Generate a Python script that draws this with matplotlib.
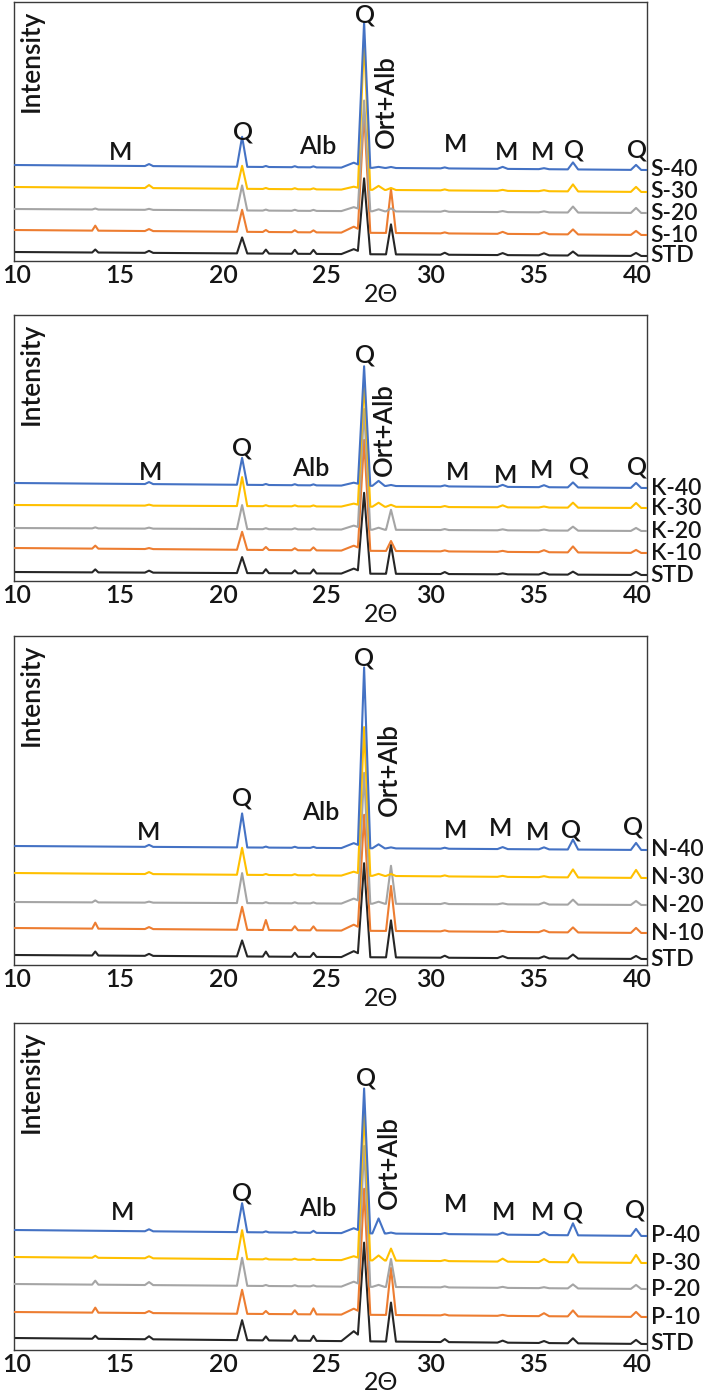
import numpy as np
import matplotlib
matplotlib.use("Agg")
import matplotlib.pyplot as plt

plt.rcParams['font.family'] = ['Lato', 'DejaVu Sans']
plt.rcParams['font.weight'] = 'semibold'

# ---------------- data ----------------
# peak positions (2-theta) and half base widths of the triangular peaks
PEAK_2THETA = [13.8, 16.4, 20.9, 22.05, 23.45, 24.35, 26.3, 26.8, 27.5, 28.1, 30.7, 33.5, 35.5, 36.9, 39.95]
PEAK_HALFWIDTH = [0.15, 0.2, 0.25, 0.15, 0.15, 0.15, 0.6, 0.3, 0.3, 0.24, 0.2, 0.25, 0.25, 0.25, 0.25]

SAMPLES = ['STD', '10', '20', '30', '40']
PANEL_PREFIX = ['S', 'K', 'N', 'P']

# baselines (left end, right end) for STD, -10, -20, -30, -40 (stacked offsets, arbitrary units)
BASE_S = [(9, 5), (31, 26), (52, 48), (74, 69), (96, 91)]
BASE_K = [(9, 6), (33, 28), (53, 50), (76, 73), (98, 93)]
BASE_N = [(10, 6), (37, 32), (63, 60), (92, 87), (119, 115)]
BASE_P = [(12, 6), (38, 33), (66, 61), (93, 87), (120, 114)]

# peak heights above baseline, in the order of PEAK_2THETA
S_STD = [3, 2, 16, 4, 4, 4, 5, 75, 0, 30, 2, 2, 2, 4, 3]
S_10 = [5, 2, 22, 2, 2, 2, 6, 120, 0, 44, 1, 2, 2, 5, 4]
S_20 = [1, 1, 25, 1, 1, 1, 4, 110, 2, 3, 1, 1, 1, 6, 5]
S_30 = [0, 3, 23, 1, 1, 1, 3, 150, 4, 2, 1, 1, 1, 7, 5]
S_40 = [0, 2, 30, 1, 1, 1, 5, 145, 1, 1, 1, 2, 1, 7, 5]

K_STD = [3, 2, 16, 4, 3, 4, 5, 80, 0, 29, 2, 1, 2, 3, 3]
K_10 = [3, 1, 18, 3, 2, 3, 5, 110, 0, 10, 1, 1, 2, 6, 3]
K_20 = [1, 1, 24, 1, 1, 1, 4, 120, 2, 20, 1, 1, 1, 4, 3]
K_30 = [0, 1, 29, 1, 1, 1, 3, 125, 4, 2, 1, 2, 1, 5, 5]
K_40 = [0, 2, 27, 1, 1, 1, 3, 119, 5, 1, 1, 2, 2, 5, 5]

N_STD = [4, 2, 16, 5, 4, 4, 6, 93, 0, 37, 2, 2, 2, 4, 3]
N_10 = [6, 2, 23, 10, 4, 4, 6, 115, 0, 45, 1, 1, 2, 5, 5]
N_20 = [2, 1, 30, 1, 1, 1, 5, 130, 2, 38, 1, 1, 2, 5, 4]
N_30 = [0, 2, 27, 1, 1, 1, 4, 148, 2, 2, 1, 1, 1, 8, 8]
N_40 = [0, 2, 34, 1, 1, 1, 5, 180, 4, 1, 1, 2, 2, 10, 7]

P_STD = [3, 3, 20, 4, 5, 5, 10, 97, 0, 39, 3, 2, 2, 5, 4]
P_10 = [5, 2, 24, 3, 4, 6, 6, 125, 0, 47, 1, 1, 3, 6, 5]
P_20 = [4, 3, 28, 1, 1, 1, 5, 140, 2, 28, 1, 1, 1, 4, 4]
P_30 = [2, 2, 29, 1, 1, 1, 4, 150, 5, 12, 1, 3, 3, 8, 8]
P_40 = [0, 2, 29, 1, 1, 2, 5, 144, 15, 1, 1, 2, 3, 12, 7]

HEIGHTS = [[S_STD, S_10, S_20, S_30, S_40],
           [K_STD, K_10, K_20, K_30, K_40],
           [N_STD, N_10, N_20, N_30, N_40],
           [P_STD, P_10, P_20, P_30, P_40]]
BASES = [BASE_S, BASE_K, BASE_N, BASE_P]

# phase annotations
ANNOT_TEXT = ['M', 'Q', 'Alb', 'Q', 'Ort+Alb', 'M', 'M', 'M', 'Q', 'Q']
ANNOT_X_S = [15.0, 20.95, 24.55, 26.85, 27.9, 31.2, 33.7, 35.45, 36.95, 40.0]
ANNOT_Y_S = [109, 129, 114, 246, 159, 116, 108, 109, 111, 111]
ANNOT_X_K = [16.45, 20.9, 24.2, 26.85, 27.8, 31.3, 33.65, 35.4, 37.2, 40.0]
ANNOT_Y_K = [109, 133, 113, 226, 151, 109, 106, 111, 114, 114]
ANNOT_X_N = [16.4, 20.9, 24.7, 26.8, 28.0, 31.2, 33.4, 35.2, 36.8, 39.8]
ANNOT_Y_N = [133, 167, 152, 307, 195, 135, 137, 133, 135, 138]
ANNOT_X_P = [15.1, 20.9, 24.55, 26.9, 28.0, 31.2, 33.55, 35.45, 36.9, 39.9]
ANNOT_Y_P = [138, 157, 142, 272, 187, 145, 137, 138, 138, 140]
ANNOT_X = [ANNOT_X_S, ANNOT_X_K, ANNOT_X_N, ANNOT_X_P]
ANNOT_Y = [ANNOT_Y_S, ANNOT_Y_K, ANNOT_Y_N, ANNOT_Y_P]

XTICKS = [10, 15, 20, 25, 30, 35, 40]
XTICK_LABELS = ['10', '15', '20', '25', '30', '35', '40']

# ---------------- style / layout ----------------
COLORS = ['#262626', '#ED7D31', '#A5A5A5', '#FFC000', '#4472C4']
W_PX, H_PX = 721, 1397
PANEL_TOP_PX = [2, 315, 636, 1023]
PANEL_BOTTOM_PX = [261, 581, 965, 1350]
AX_LEFT_PX, AX_RIGHT_PX = 14, 647
X_MIN, X_MAX = 9.87, 40.48
TEXT_COLOR = '#151515'

fig = plt.figure(figsize=(W_PX / 100, H_PX / 100), dpi=100)
fig.patch.set_facecolor('white')

for p in range(4):
    top, bot = PANEL_TOP_PX[p], PANEL_BOTTOM_PX[p]
    hpx = bot - top
    ax = fig.add_axes([AX_LEFT_PX / W_PX, 1 - bot / H_PX,
                       (AX_RIGHT_PX - AX_LEFT_PX) / W_PX, hpx / H_PX])
    ax.set_xlim(X_MIN, X_MAX)
    ax.set_ylim(0, hpx)

    # vertices of the piecewise-linear patterns
    verts = {X_MIN, X_MAX}
    for c, w in zip(PEAK_2THETA, PEAK_HALFWIDTH):
        verts.update([c - w, c, c + w])
    xs = np.array(sorted(verts))

    for s in range(5):
        bl, br = BASES[p][s]
        ys = bl + (br - bl) * (xs - X_MIN) / (X_MAX - X_MIN)
        for c, w, h in zip(PEAK_2THETA, PEAK_HALFWIDTH, HEIGHTS[p][s]):
            ys = ys + np.interp(xs, [c - w, c, c + w], [0, h, 0])
        ax.plot(xs, ys, color=COLORS[s], lw=1.5, solid_joinstyle='round', zorder=2 + s)
        label = 'STD' if SAMPLES[s] == 'STD' else f'{PANEL_PREFIX[p]}-{SAMPLES[s]}'
        ax.text(1.006, br, label, transform=ax.get_yaxis_transform(),
                ha='left', va='center', fontsize=16.5, color=TEXT_COLOR, clip_on=False)

    for t, x, y in zip(ANNOT_TEXT, ANNOT_X[p], ANNOT_Y[p]):
        rot = 90 if t == 'Ort+Alb' else 0
        ax.text(x, y, t, ha='center', va='center', rotation=rot,
                fontsize=18.5 if rot else 18, color=TEXT_COLOR, zorder=10)

    ax.text(17 / (AX_RIGHT_PX - AX_LEFT_PX), 1 - 8 / hpx, 'Intensity', transform=ax.transAxes,
            rotation=90, ha='center', va='top', fontsize=19, color=TEXT_COLOR)

    ax.set_xticks(XTICKS)
    ax.set_xticklabels(XTICK_LABELS)
    ax.set_yticks([])
    ax.tick_params(axis='x', length=0, pad=2, labelsize=18, labelcolor=TEXT_COLOR)
    ax.set_xlabel('2Θ', fontsize=18, color=TEXT_COLOR)
    ax.xaxis.set_label_coords((381 - AX_LEFT_PX) / (AX_RIGHT_PX - AX_LEFT_PX), -33 / hpx)
    ax.xaxis.label.set_va('center')
    for sp in ax.spines.values():
        sp.set_color('#3a3a3a')
        sp.set_linewidth(1.0)

fig.savefig('out.png', dpi=100, facecolor='white')
